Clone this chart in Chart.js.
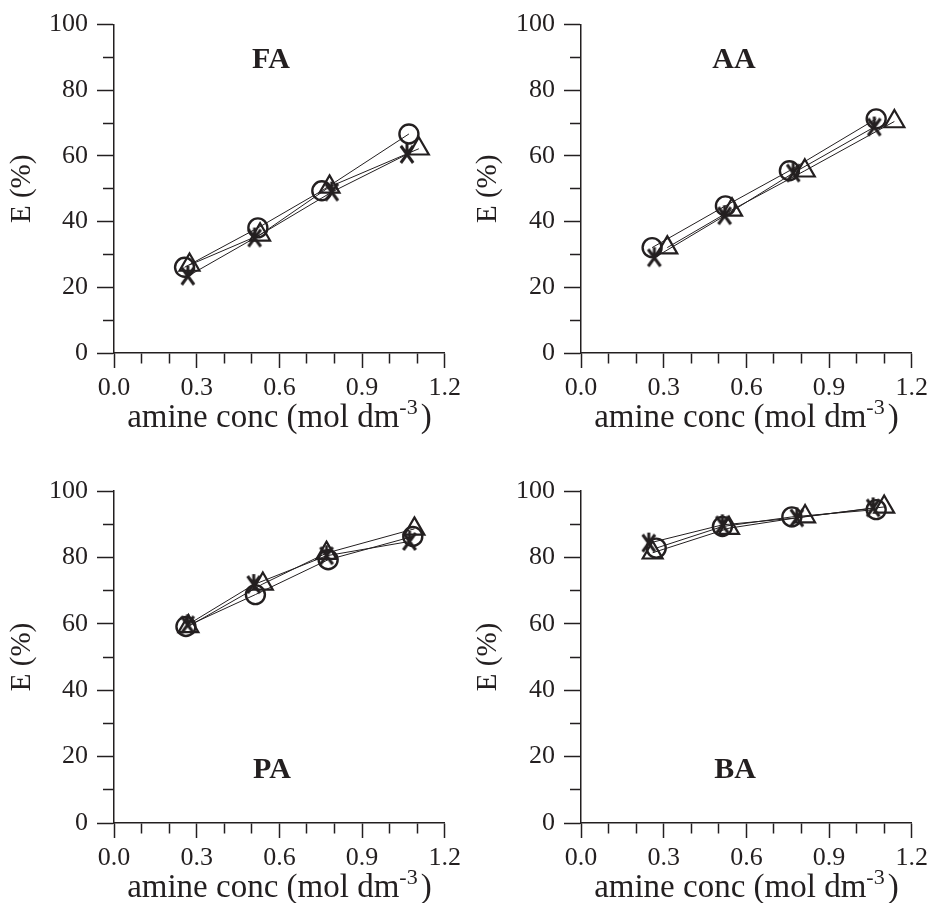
<!DOCTYPE html>
<html><head><meta charset="utf-8">
<script src="https://cdn.jsdelivr.net/npm/chart.js@4"></script>
<style>
html,body{margin:0;padding:0;background:#fff;}
#wrap{position:relative;width:933px;height:903px;overflow:hidden;}
canvas{position:absolute;}
</style></head><body>
<div id="wrap">
<canvas id="c0"></canvas><canvas id="c1"></canvas><canvas id="c2"></canvas><canvas id="c3"></canvas>
</div>
<script>
// ---- data ----
const panelNames = ['FA', 'AA', 'PA', 'BA'];
const xTickLabels = [0.0, 0.3, 0.6, 0.9, 1.2];
const yTickLabels = [0, 20, 40, 60, 80, 100];
const xAxisTitle = 'amine conc (mol dm';
const xAxisSup = '-3';
const yAxisTitle = 'E (%)';

const FA_circle   = [[0.256,26.1],[0.522,38.1],[0.754,49.4],[1.070,66.7]];
const FA_triangle = [[0.274,26.8],[0.530,36.0],[0.782,50.6],[1.106,62.2]];
const FA_star     = [[0.268,23.4],[0.510,35.0],[0.790,49.0],[1.063,60.5]];

const AA_circle   = [[0.258,32.1],[0.524,44.8],[0.756,55.5],[1.071,71.3]];
const AA_triangle = [[0.313,32.1],[0.548,43.6],[0.812,55.5],[1.137,70.5]];
const AA_star     = [[0.266,29.0],[0.521,41.8],[0.770,54.8],[1.064,68.8]];

const PA_circle   = [[0.261,59.2],[0.513,68.8],[0.777,79.3],[1.084,86.3]];
const PA_triangle = [[0.270,59.2],[0.540,72.0],[0.771,81.3],[1.090,88.6]];
const PA_star     = [[0.267,59.7],[0.507,71.8],[0.771,80.5],[1.072,84.8]];

const BA_circle   = [[0.273,82.8],[0.513,89.3],[0.765,92.2],[1.071,94.4]];
const BA_triangle = [[0.260,81.4],[0.537,88.8],[0.813,92.3],[1.100,95.2]];
const BA_star     = [[0.246,84.3],[0.513,89.8],[0.783,91.9],[1.060,94.9]];

const panelSeries = [
  [FA_circle, FA_triangle, FA_star],
  [AA_circle, AA_triangle, AA_star],
  [PA_circle, PA_triangle, PA_star],
  [BA_circle, BA_triangle, BA_star]
];

// ---- layout / style ----
const INK = '#231f20';
const FONT = '"Liberation Serif"';
const layouts = [
  {x:0,   y:0,   w:466, h:451, left:114, right:447, top:20, bottom:353, lx:157, ly:36},
  {x:466, y:0,   w:467, h:451, left:115, right:448, top:20, bottom:353, lx:153, ly:36},
  {x:0,   y:451, w:466, h:452, left:114, right:447, top:40, bottom:372, lx:158, ly:279},
  {x:466, y:451, w:467, h:452, left:115, right:448, top:40, bottom:372, lx:154, ly:279}
];

function makeStar() {
  const c = document.createElement('canvas');
  c.width = 22; c.height = 23;
  const g = c.getContext('2d');
  g.strokeStyle = INK; g.lineWidth = 3; g.lineCap = 'butt';
  const cx = 11, cy = 11.5, r = 10.5;
  g.beginPath();
  g.moveTo(cx, cy - r); g.lineTo(cx, cy);
  const a = 36 * Math.PI / 180;
  g.moveTo(cx - Math.sin(a) * r, cy - Math.cos(a) * r);
  g.lineTo(cx + Math.sin(a) * r, cy + Math.cos(a) * r);
  g.moveTo(cx + Math.sin(a) * r, cy - Math.cos(a) * r);
  g.lineTo(cx - Math.sin(a) * r, cy + Math.cos(a) * r);
  g.stroke();
  return c;
}

const textPlugin = {
  id: 'panelText',
  afterDraw(chart, args, opts) {
    const {ctx, chartArea} = chart;
    ctx.save();
    ctx.fillStyle = INK;
    ctx.font = 'bold 30px ' + FONT;
    ctx.textAlign = 'center';
    ctx.textBaseline = 'middle';
    ctx.fillText(opts.label, chartArea.left + opts.lx, chartArea.top + opts.ly);
    const mainFont = '33px ' + FONT, supFont = '22px ' + FONT;
    ctx.textBaseline = 'alphabetic';
    ctx.textAlign = 'left';
    ctx.font = mainFont; const w1 = ctx.measureText(xAxisTitle).width; const w3 = ctx.measureText(')').width;
    ctx.font = supFont; const w2 = ctx.measureText(xAxisSup).width;
    const total = w1 + w2 + w3 + 3;
    let x = (chartArea.left + chartArea.right) / 2 - total / 2;
    const base = chartArea.bottom + 74;
    ctx.font = mainFont; ctx.fillText(xAxisTitle, x, base); x += w1;
    ctx.font = supFont; ctx.fillText(xAxisSup, x, base - 13); x += w2 + 3;
    ctx.font = mainFont; ctx.fillText(')', x, base);
    ctx.restore();
  }
};

function isMajorX(v) { return xTickLabels.some(t => Math.abs(t - v) < 1e-6); }
function isMajorY(v) { return yTickLabels.some(t => Math.abs(t - v) < 1e-6); }

function build() {
  const starImg = makeStar();
  layouts.forEach((L, i) => {
    const cv = document.getElementById('c' + i);
    cv.width = L.w; cv.height = L.h;
    cv.style.left = L.x + 'px'; cv.style.top = L.y + 'px';
    cv.style.width = L.w + 'px'; cv.style.height = L.h + 'px';
    const [circ, tri, star] = panelSeries[i];
    const toPts = arr => arr.map(p => ({x: p[0], y: p[1]}));
    const base = {showLine: true, borderColor: INK, borderWidth: 1, pointBorderColor: INK,
      pointBackgroundColor: 'rgba(0,0,0,0)', clip: false, tension: 0};
    new Chart(cv, {
      type: 'scatter',
      data: {datasets: [
        Object.assign({}, base, {label: 'circle', data: toPts(circ), pointStyle: 'circle', pointRadius: 9.5, pointBorderWidth: 2.4}),
        Object.assign({}, base, {label: 'triangle', data: toPts(tri), pointStyle: 'triangle', pointRadius: 11.5, pointBorderWidth: 2.2}),
        Object.assign({}, base, {label: 'star', data: toPts(star), pointStyle: starImg, pointRadius: 10, pointBorderWidth: 2})
      ]},
      options: {
        responsive: false, animation: false, devicePixelRatio: 1,
        layout: {padding: {left: 0, top: L.top, right: L.w - L.right, bottom: 0}},
        plugins: {legend: {display: false}, tooltip: {enabled: false},
          panelText: {label: panelNames[i], lx: L.lx, ly: L.ly}},
        scales: {
          x: {
            type: 'linear', position: 'bottom', min: 0, max: 1.2,
            afterFit: s => { s.height = L.h - L.bottom; },
            border: {display: true, color: INK, width: 1.5},
            grid: {drawOnChartArea: false, drawTicks: true, tickLength: 15, tickColor: INK, tickWidth: 1.5,
              tickBorderDash: ctx => (ctx.tick && isMajorX(ctx.tick.value)) ? [] : [10, 60]},
            ticks: {stepSize: 0.1, maxTicksLimit: 30, autoSkip: false, maxRotation: 0, padding: 5,
              color: INK, font: {family: FONT, size: 26},
              callback: v => isMajorX(v) ? v.toFixed(1) : ''},
            title: {display: false}
          },
          y: {
            type: 'linear', position: 'left', min: 0, max: 100,
            afterFit: s => { s.width = L.left; },
            border: {display: true, color: INK, width: 1.5},
            grid: {drawOnChartArea: false, drawTicks: true, tickLength: 17, tickColor: INK, tickWidth: 1.5,
              tickBorderDash: ctx => (ctx.tick && isMajorY(ctx.tick.value)) ? [] : [0, 6, 11, 60]},
            ticks: {stepSize: 10, maxTicksLimit: 30, autoSkip: false, padding: 9,
              color: INK, font: {family: FONT, size: 26},
              callback: v => isMajorY(v) ? String(v) : ''},
            title: {display: true, text: yAxisTitle, color: INK, font: {family: FONT, size: 29},
              padding: {top: 5, bottom: 0}}
          }
        }
      }
    },
    );
  });
}

Chart.register(textPlugin);
const loads = [
  document.fonts.load('26px "Liberation Serif"'),
  document.fonts.load('bold 30px "Liberation Serif"')
];
Promise.all(loads).then(build, build);
</script>
</body></html>
